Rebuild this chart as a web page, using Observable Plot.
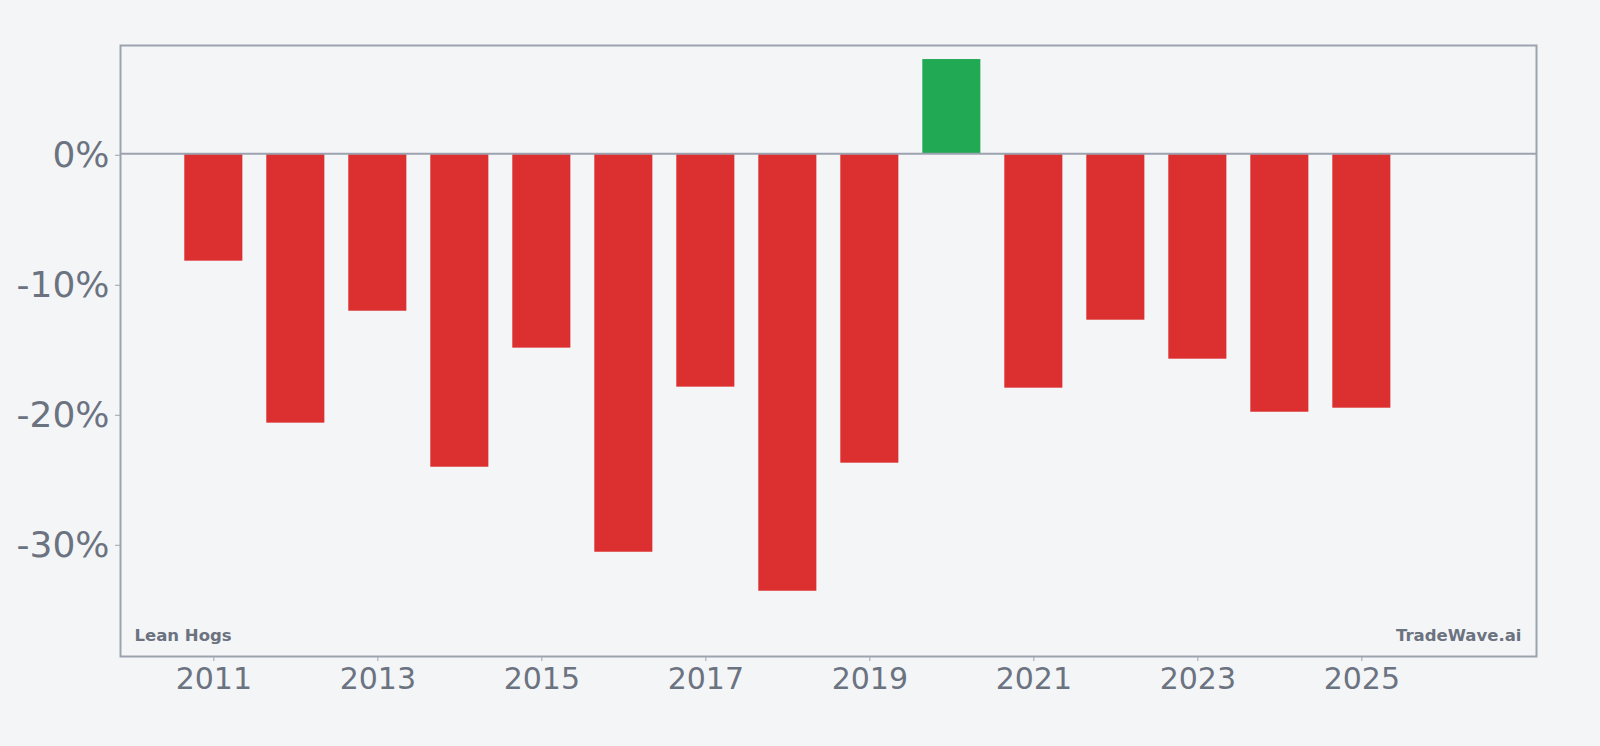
<!DOCTYPE html>
<html>
<head>
<meta charset="utf-8">
<script src="https://cdn.jsdelivr.net/npm/d3@7"></script>
<script src="https://cdn.jsdelivr.net/npm/@observablehq/plot@0.6"></script>
<style>
  html, body { margin: 0; padding: 0; background: #f4f5f7; }
  #chart { width: 1600px; height: 746px; }
</style>
</head>
<body>
<div id="chart"></div>
<script>
// Data
const years = [2011, 2012, 2013, 2014, 2015, 2016, 2017, 2018, 2019, 2020, 2021, 2022, 2023, 2024, 2025];
const changes = [-8.26, -20.72, -12.11, -24.11, -14.95, -30.65, -17.95, -33.65, -23.8, 7.25, -18.03, -12.8, -15.8, -19.88, -19.57];
const yTicks = [-30, -20, -10, 0];
const xTicks = [2011, 2013, 2015, 2017, 2019, 2021, 2023, 2025];
const leftLabel = ["Lean Hogs"];
const rightLabel = ["TradeWave.ai"];

const rows = years.map((y, i) => ({year: y, value: changes[i]}));
const RED = "#dc2f2f";
const GREEN = "#22a954";
const GRID = "#9ca3af";
const TEXT = "#6b7280";
const half = 0.354;

const chart = Plot.plot({
  width: 1600,
  height: 746,
  marginLeft: 120,
  marginRight: 64,
  marginTop: 45,
  marginBottom: 90,
  style: {background: "#f4f5f7", fontFamily: "DejaVu Sans", color: TEXT},
  x: {domain: [2009.862, 2027.13], label: null},
  y: {domain: [-38.67, 8.33], label: null},
  marks: [
    Plot.rectY(rows, {
      x1: d => d.year - half,
      x2: d => d.year + half,
      y1: 0,
      y2: "value",
      fill: d => d.value >= 0 ? GREEN : RED
    }),
    Plot.ruleY([0], {stroke: GRID, strokeWidth: 2}),
    Plot.frame({stroke: GRID, strokeWidth: 2}),
    Plot.axisY({
      ticks: yTicks,
      tickFormat: d => d + "%",
      tickSize: 5,
      tickPadding: 6,
      fontSize: 36,
      dy: 1.5,
      stroke: GRID,
      fill: TEXT,
      label: null
    }),
    Plot.axisX({
      ticks: xTicks,
      tickFormat: d => String(d),
      tickSize: 5,
      tickPadding: 6,
      fontSize: 30,
      stroke: GRID,
      fill: TEXT,
      label: null
    }),
    Plot.text(leftLabel, {
      text: d => d,
      frameAnchor: "bottom-left",
      textAnchor: "start",
      lineAnchor: "bottom",
      dx: 14,
      dy: -16,
      fontSize: 16.5,
      fontWeight: "bold",
      fill: TEXT
    }),
    Plot.text(rightLabel, {
      text: d => d,
      frameAnchor: "bottom-right",
      textAnchor: "end",
      lineAnchor: "bottom",
      dx: -15,
      dy: -16,
      fontSize: 16.5,
      fontWeight: "bold",
      fill: TEXT
    })
  ]
});
document.getElementById("chart").appendChild(chart);
</script>
</body>
</html>
